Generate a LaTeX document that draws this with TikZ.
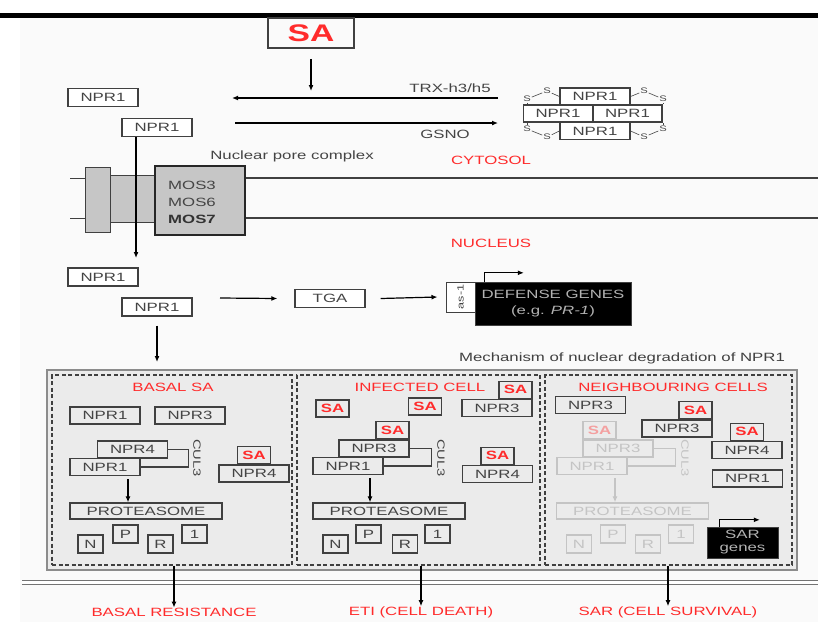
\documentclass[tikz,border=0pt]{standalone}
\usepackage{fontspec}
\setmainfont{Liberation Sans}[FakeStretch=1.4]
\usepackage{tikz}
\usetikzlibrary{arrows.meta,positioning}
\definecolor{NPRed}{HTML}{FF2B2B}
\definecolor{NPGray}{HTML}{404040}
\definecolor{NPText}{HTML}{444444}
\definecolor{NPFade}{HTML}{C4C4C4}
\definecolor{NPFadeRed}{HTML}{F4A0A0}
\definecolor{NPPanel}{HTML}{EBEBEB}
\definecolor{NPPore}{HTML}{C6C6C6}

\begin{document}
\begin{tikzpicture}[x=1pt,y=-1pt,
    every node/.style={font=\fontsize{12}{14}\selectfont,inner sep=0pt},
    box/.style={draw=NPGray,line width=1.3pt,text=NPText,minimum width=70pt,minimum height=17pt},
    topbox/.style={box,fill=white,minimum height=18pt},
    sabox/.style={box,text=NPRed,font=\fontsize{12}{14}\selectfont\bfseries,minimum width=33pt},
    faded/.style={draw=NPFade,text=NPFade},
    fadedsa/.style={draw=NPFade,text=NPFadeRed},
    letterbox/.style={box,minimum width=25pt,minimum height=18pt},
    gene/.style={fill=black,draw=NPGray,text=black!30,align=center},
    redtext/.style={text=NPRed},
    graytext/.style={text=NPText},
    panel/.style={draw=NPGray,line width=1.2pt,dash pattern=on 4pt off 2.5pt,minimum height=190pt},
    culbar/.style={draw=NPGray,line width=1.2pt},
    cultext/.style={rotate=-90,text=NPText,font=\fontsize{10.5}{10.5}\selectfont},
    arrow/.style={-{Latex[length=6pt,width=5pt]},line width=1.2pt},
    bond/.style={draw=NPText,line width=0.6pt},
    sulfur/.style={text=NPText,font=\fontsize{8}{8}\selectfont,inner sep=0.8pt}
  ]
  \useasboundingbox (0,0) rectangle (818,622);
  \fill[black!2] (20,18) rectangle (818,622);
  \fill[black] (0,13) rectangle (818,18);

  \node[draw=NPGray,line width=1.8pt,minimum width=86pt,minimum height=30pt,text=NPRed,font=\fontsize{24}{24}\selectfont\bfseries] (sa) at (311,33) {SA};
  \coordinate (sahit) at (311,91);
  \draw[arrow] ([yshift=-10pt]sa.south) -- (sahit);

  \node[topbox] (npr1a) at (103,97.5) {NPR1};
  \node[topbox] (npr1b) at (157,127.5) {NPR1};
  \coordinate (trxs) at (498,98);
  \coordinate (trxe) at (232,98);
  \coordinate (gsnos) at (235,123);
  \coordinate (gsnoe) at (498,123);
  \draw[arrow] (trxs) -- (trxe);
  \draw[arrow] (gsnos) -- (gsnoe);
  \node[graytext] (trx) at (450,88) {TRX-h3/h5};
  \node[graytext] (gsno) at (445,134) {GSNO};

  \node[topbox,minimum height=17pt] (tet1) at (595,96.5) {NPR1};
  \node[topbox,minimum height=17pt,minimum width=69pt] (tet2) at (558,113.5) {NPR1};
  \node[topbox,minimum height=17pt,minimum width=69pt] (tet3) at (627.5,113.5) {NPR1};
  \node[topbox,minimum height=17pt] (tet4) at (595,131) {NPR1};
  \node[sulfur] (s1) at (547,91) {S};
  \node[sulfur] (s2) at (527,99) {S};
  \node[sulfur] (s3) at (527,129) {S};
  \node[sulfur] (s4) at (547,137) {S};
  \node[sulfur] (s5) at (644,91) {S};
  \node[sulfur] (s6) at (663,99) {S};
  \node[sulfur] (s7) at (663,129) {S};
  \node[sulfur] (s8) at (644,137) {S};
  \draw[bond] (tet1.west) -- (s1);
  \draw[bond] (s1) -- (s2);
  \draw[bond] (s2) -- (s2 |- tet2.north);
  \draw[bond] (tet4.west) -- (s4);
  \draw[bond] (s4) -- (s3);
  \draw[bond] (s3) -- (s3 |- tet2.south);
  \draw[bond] (tet1.east) -- (s5);
  \draw[bond] (s5) -- (s6);
  \draw[bond] (s6) -- (s6 |- tet3.north);
  \draw[bond] (tet4.east) -- (s8);
  \draw[bond] (s8) -- (s7);
  \draw[bond] (s7) -- (s7 |- tet3.south);

  \node[graytext] (npc) at (292,156) {Nuclear pore complex};
  \node[redtext] (cyto) at (491,160) {CYTOSOL};
  \node[redtext] (nucl) at (491,243) {NUCLEUS};

  \coordinate (memtop) at (818,178);
  \coordinate (membot) at (818,218);
  \node[draw=NPGray,fill=NPPore,line width=1pt,minimum width=25pt,minimum height=65pt] (pore1) at (97.5,199.5) {};
  \node[draw=NPGray,fill=NPPore,line width=1pt,minimum width=45pt,minimum height=47pt] (pore2) at (132.5,198.5) {};
  \node[draw=black!85,fill=NPPore,line width=2pt,minimum width=90pt,minimum height=69pt] (mos) at (200,200.5) {};
  \node[graytext,anchor=west] (mos3) at (168,185) {MOS3};
  \node[graytext,anchor=west] (mos6) at (168,202) {MOS6};
  \node[anchor=west,text=black!80] (mos7) at (168,219) {\bfseries MOS7};
  \draw[line width=1.5pt,NPGray] (mos.east |- memtop) -- (memtop);
  \draw[line width=1.5pt,NPGray] (mos.east |- membot) -- (membot);
  \draw[line width=1pt,NPGray] (pore1.west |- memtop) -- ++(-15,0);
  \draw[line width=1pt,NPGray] (pore1.west |- membot) -- ++(-15,0);
  \coordinate (imp) at (136,258);
  \draw[arrow] (npr1b.south -| imp) -- (imp);

  \node[topbox] (npr1c) at (103,277) {NPR1};
  \node[topbox] (npr1d) at (157,307) {NPR1};
  \node[topbox] (tga) at (330,298.5) {TGA};
  \coordinate (tgain) at (220,298);
  \draw[arrow] (tgain) -- ([xshift=-17pt]tga.west);
  \node[draw=NPGray,fill=white,line width=1pt,minimum width=29pt,minimum height=30pt] (as1) at (460.5,297) {};
  \node[rotate=90,text=NPText,font=\fontsize{9}{9}\selectfont] (as1txt) at (as1) {as-1};
  \draw[arrow] ([xshift=15pt]tga.east) -- ([xshift=-8pt]as1.west);
  \node[gene,minimum width=156pt,minimum height=43pt,font=\fontsize{12}{16}\selectfont] (defense) at (553,303.5) {DEFENSE GENES\\(e.g. \textit{PR-1})};
  \draw[-{Latex[length=6pt,width=5pt]},line width=1pt] ([xshift=10pt]defense.north west) -- ++(0,-9) -- ++(39,0);
  \coordinate (degr) at (157,362);
  \draw[arrow] ([yshift=-9pt]npr1d.south) -- (degr);

  \node[text=black!75] (mech) at (622,358) {Mechanism of nuclear degradation of NPR1};
  \draw[line width=1pt,draw=black!55,double=white,double distance=3pt] (22,582.5) -- (818,582.5);
  \node[draw=black!45,line width=2pt,fill=NPPanel,minimum width=750pt,minimum height=200pt] (mechbox) at (422,470) {};
  \node[panel,minimum width=240pt] (p1) at (172,470) {};
  \node[panel,minimum width=243pt] (p2) at (418.5,470) {};
  \node[panel,minimum width=247pt] (p3) at (668.5,470) {};
  \node[redtext] (t1) at (173,387) {BASAL SA};
  \node[redtext] (t2) at (420,387) {INFECTED CELL};
  \node[redtext] (t3) at (673,387) {NEIGHBOURING CELLS};

  \node[box] (q1npr1a) at (105,415.5) {NPR1};
  \node[box] (q1npr3) at (190,415.5) {NPR3};
  \node[box] (q1npr4) at (132.5,449.5) {NPR4};
  \node[box] (q1npr1b) at (105,467) {NPR1};
  \draw[culbar] (q1npr4.east) -- ++(20,0) |- (q1npr1b.east);
  \node[cultext] (q1cul) at (197,458) {CUL3};
  \node[box] (q1npr4b) at (254,473.5) {NPR4};
  \node[sabox,above=0pt of q1npr4b] (q1sa) {SA};
  \node[box,minimum width=152pt,minimum height=16pt] (q1prot) at (146,511) {PROTEASOME};
  \draw[arrow] ([xshift=23pt,yshift=-3pt]q1npr1b.south) -- ([xshift=23pt]q1npr1b.south |- q1prot.north);
  \node[letterbox] (q1n) at (90.5,544) {N};
  \node[letterbox] (q1p) at (125.5,534) {P};
  \node[letterbox] (q1r) at (160.5,544) {R};
  \node[letterbox] (q1one) at (194.5,534) {1};

  \node[box] (q2npr3a) at (497,408) {NPR3};
  \node[sabox,anchor=south east] (q2sa1) at (q2npr3a.north east) {SA};
  \node[sabox] (q2sa2) at (332.5,408.5) {SA};
  \node[sabox] (q2sa3) at (425,406.5) {SA};
  \node[box] (q2npr3b) at (374,448.5) {NPR3};
  \node[sabox,anchor=south east] (q2sa4) at (q2npr3b.north east) {SA};
  \node[box] (q2npr1) at (348,466) {NPR1};
  \draw[culbar] (q2npr3b.east) -- ++(22,0) |- (q2npr1.east);
  \node[cultext] (q2cul) at (441,458) {CUL3};
  \node[box] (q2npr4) at (497.5,474) {NPR4};
  \node[sabox,above=0pt of q2npr4] (q2sa5) {SA};
  \node[box,minimum width=152pt,minimum height=16pt] (q2prot) at (389,511) {PROTEASOME};
  \draw[arrow] ([xshift=22pt,yshift=-3pt]q2npr1.south) -- ([xshift=22pt]q2npr1.south |- q2prot.north);
  \node[letterbox] (q2n) at (335.5,544) {N};
  \node[letterbox] (q2p) at (368.5,534) {P};
  \node[letterbox] (q2r) at (405,544) {R};
  \node[letterbox] (q2one) at (437.5,534) {1};

  \node[box] (q3npr3a) at (590.5,405) {NPR3};
  \node[box] (q3npr3b) at (677,428.5) {NPR3};
  \node[sabox,anchor=south east] (q3sa1) at (q3npr3b.north east) {SA};
  \node[box] (q3npr4) at (747,450) {NPR4};
  \node[sabox,above=0pt of q3npr4] (q3sa2) {SA};
  \node[box] (q3npr1) at (747.5,478.5) {NPR1};
  \node[box,faded] (q3fnpr3) at (618,448.5) {NPR3};
  \node[sabox,fadedsa,anchor=south west] (q3fsa) at (q3fnpr3.north west) {SA};
  \node[box,faded] (q3fnpr1) at (592,466) {NPR1};
  \draw[culbar,draw=NPFade] (q3fnpr3.east) -- ++(22,0) |- (q3fnpr1.east);
  \node[cultext,text=NPFade] (q3cul) at (685,458) {CUL3};
  \node[box,faded,minimum width=152pt,minimum height=16pt] (q3fprot) at (632.5,511) {PROTEASOME};
  \draw[arrow,NPFade] ([xshift=23pt,yshift=-3pt]q3fnpr1.south) -- ([xshift=23pt]q3fnpr1.south |- q3fprot.north);
  \node[letterbox,faded] (q3n) at (579,544) {N};
  \node[letterbox,faded] (q3p) at (613,534) {P};
  \node[letterbox,faded] (q3r) at (648,544) {R};
  \node[letterbox,faded] (q3one) at (681,534) {1};
  \node[gene,minimum width=71pt,minimum height=31pt,font=\fontsize{12}{13}\selectfont] (sar) at (742.5,542.5) {SAR\\genes};
  \draw[-{Latex[length=6pt,width=5pt]},line width=1pt] ([xshift=13pt]sar.north west) -- ++(0,-7) -- ++(40,0);

  \node[redtext] (res1) at (174,612) {BASAL RESISTANCE};
  \node[redtext] (res2) at (421,612) {ETI (CELL DEATH)};
  \node[redtext] (res3) at (668,612) {SAR (CELL SURVIVAL)};
  \draw[arrow] (p1.south -| res1) -- (res1.north);
  \draw[arrow] (p2.south -| res2) -- (res2.north);
  \draw[arrow] (p3.south -| res3) -- (res3.north);
\end{tikzpicture}
\end{document}
